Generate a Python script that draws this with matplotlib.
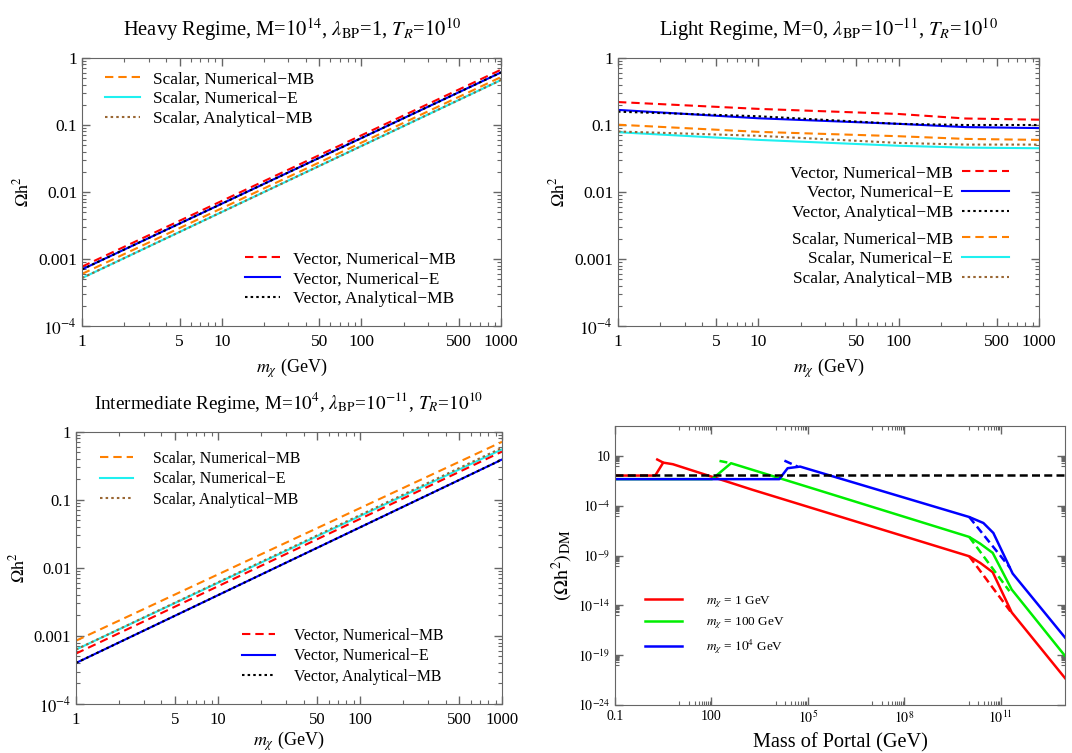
import numpy as np
import matplotlib
matplotlib.use("Agg")
import matplotlib.pyplot as plt
from matplotlib.ticker import FixedLocator, FixedFormatter, NullFormatter

plt.rcParams['font.family'] = ['Liberation Serif', 'DejaVu Serif']
plt.rcParams['mathtext.fontset'] = 'stix'

# ---- data ----
# heavy regime, values at m_chi = 1 and 1000 GeV
mx = [1, 1000]
heavy_vec_nmb = [7.7e-4, 0.67]
heavy_vec_ne = [7.0e-4, 0.61]
heavy_vec_amb = [7.0e-4, 0.61]
heavy_sca_nmb = [6.0e-4, 0.52]
heavy_sca_ne = [5.2e-4, 0.47]
heavy_sca_amb = [5.2e-4, 0.47]

# light regime
mx_light = [1, 10, 100, 300, 1000]
light_vec_nmb = [0.22, 0.174, 0.146, 0.125, 0.12]
light_vec_ne = [0.168, 0.126, 0.104, 0.093, 0.09]
light_vec_amb = [0.158, 0.135, 0.104, 0.1, 0.1]
light_sca_nmb = [0.101, 0.079, 0.068, 0.062, 0.06]
light_sca_ne = [0.078, 0.06, 0.049, 0.046, 0.045]
light_sca_amb = [0.08, 0.069, 0.054, 0.051, 0.051]

# intermediate regime
int_sca_nmb = [8.5e-4, 0.71]
int_sca_ne = [6.3e-4, 0.55]
int_sca_amb = [6.3e-4, 0.58]
int_vec_nmb = [5.5e-4, 0.51]
int_vec_ne = [4.0e-4, 0.39]
int_vec_amb = [4.0e-4, 0.39]

# mass of portal scan, log10(M) and log10(Omega h^2)
red_x = [-1, 0.25, 0.5, 0.8, 3.28, 10.02, 10.36, 10.75, 11.34, 13.0]
red_y = [-0.97, -0.97, 0.33, 0.17, -2.4, -9.07, -9.73, -10.67, -14.7, -21.3]
red_dash1_x = [0.28, 0.5]
red_dash1_y = [0.7, 0.33]
red_dash2_x = [10.02, 11.3]
red_dash2_y = [-9.07, -14.6]

green_x = [-1, 2.02, 2.61, 5.36, 10.02, 10.36, 10.75, 11.34, 13.0]
green_y = [-1.33, -1.33, 0.27, -2.47, -7.13, -7.8, -8.73, -12.4, -19.07]
green_dash1_x = [2.25, 2.61]
green_dash1_y = [0.5, 0.27]
green_dash2_x = [10.02, 11.27]
green_dash2_y = [-7.13, -12.57]

blue_x = [-1, 4.11, 4.37, 4.76, 10.02, 10.46, 10.77, 11.37, 13.0]
blue_y = [-1.33, -1.33, -0.23, -0.07, -5.13, -5.73, -6.73, -10.8, -17.23]
blue_dash1_x = [4.27, 4.68]
blue_dash1_y = [0.53, -0.07]
blue_dash2_x = [10.02, 11.29]
blue_dash2_y = [-5.13, -10.23]

relic = 0.12

RED, BLUE, BLACK = '#ff0000', '#0000ff', '#000000'
ORANGE, CYAN, BROWN, GREEN = '#ff8000', '#1ff0f0', '#996633', '#00ee00'
FRAME = '#666666'

lw = 1.5
DASH = (4, 2.4)
DOT = (1.2, 1.5)

fig = plt.figure(figsize=(10.72, 7.53), dpi=100)


def style_mx_axes(ax, xlabelpad=4, ticksize=12.5):
    ax.set_xscale('log')
    ax.set_yscale('log')
    ax.set_xlim(1, 1000)
    ax.set_ylim(1e-4, 1)
    ax.xaxis.set_major_locator(FixedLocator([1, 5, 10, 50, 100, 500, 1000]))
    ax.xaxis.set_major_formatter(FixedFormatter(['1', '5', '10', '50', '100', '500', '1000']))
    xm = [k * 10.0 ** d for d in range(0, 3) for k in (2, 3, 4, 6, 7, 8, 9)]
    ax.xaxis.set_minor_locator(FixedLocator(xm))
    ax.yaxis.set_major_locator(FixedLocator([1e-4, 1e-3, 1e-2, 0.1, 1]))
    ax.yaxis.set_major_formatter(FixedFormatter(['$10^{-4}$', '0.001', '0.01', '0.1', '1']))
    ym = [k * 10.0 ** d for d in range(-4, 0) for k in range(2, 10)]
    ax.yaxis.set_minor_locator(FixedLocator(ym))
    ax.xaxis.set_minor_formatter(NullFormatter())
    ax.yaxis.set_minor_formatter(NullFormatter())
    ax.tick_params(which='both', direction='in', top=True, right=True, color=FRAME, labelsize=ticksize)
    ax.tick_params(which='major', length=6, width=1)
    ax.tick_params(which='minor', length=3, width=0.8)
    ax.tick_params(axis='x', pad=6)
    for s in ax.spines.values():
        s.set_color(FRAME)
    ax.set_xlabel(r'$m_\chi$ (GeV)', fontsize=13, labelpad=xlabelpad)
    ax.set_ylabel(r'$\mathrm{\Omega h}^2$', fontsize=13, labelpad=4)


def draw_set(ax, x, vals, labels, colors, kinds):
    handles = []
    for v, lab, c, k in zip(vals, labels, colors, kinds):
        if k == 'dash':
            h, = ax.plot(x, v, color=c, lw=lw, dashes=DASH, label=lab)
        elif k == 'dot':
            h, = ax.plot(x, v, color=c, lw=lw, dashes=DOT, label=lab)
        else:
            h, = ax.plot(x, v, color=c, lw=lw, label=lab)
        handles.append(h)
    return handles


vec_labels = ['Vector, Numerical\u2212MB', 'Vector, Numerical\u2212E', 'Vector, Analytical\u2212MB']
sca_labels = ['Scalar, Numerical\u2212MB', 'Scalar, Numerical\u2212E', 'Scalar, Analytical\u2212MB']
vec_colors = [RED, BLUE, BLACK]
sca_colors = [ORANGE, CYAN, BROWN]
kinds = ['dash', 'solid', 'dot']

leg_kw = dict(frameon=False, fontsize=12.4, borderaxespad=0, borderpad=0, labelspacing=0.22)
leg_kw3 = dict(frameon=False, fontsize=11.4, borderaxespad=0, borderpad=0, labelspacing=0.3)
TFS = 14.8

# ---- heavy regime ----
ax1 = fig.add_axes([0.0765, 0.567, 0.391, 0.356])
hs = draw_set(ax1, mx, [heavy_sca_nmb, heavy_sca_ne, heavy_sca_amb], sca_labels, sca_colors, kinds)
hv = draw_set(ax1, mx, [heavy_vec_nmb, heavy_vec_ne, heavy_vec_amb], vec_labels, vec_colors, kinds)
style_mx_axes(ax1)
ax1.set_title(r'Heavy Regime, M=$10^{14}$, $\lambda_{\mathrm{BP}}$=1, $T_R$=$10^{10}$', fontsize=TFS, pad=16)
l1 = ax1.legend(handles=hs, loc='center left', bbox_to_anchor=(0.055, 0.847),
                handlelength=2.0, handletextpad=0.8, **leg_kw)
ax1.add_artist(l1)
ax1.legend(handles=hv, loc='center left', bbox_to_anchor=(0.389, 0.175),
           handlelength=2.0, handletextpad=0.8, **leg_kw)

# ---- light regime ----
ax2 = fig.add_axes([0.5765, 0.567, 0.3927, 0.356])
hs = draw_set(ax2, mx_light, [light_sca_nmb, light_sca_ne, light_sca_amb], sca_labels, sca_colors, kinds)
hv = draw_set(ax2, mx_light, [light_vec_nmb, light_vec_ne, light_vec_amb], vec_labels, vec_colors, kinds)
style_mx_axes(ax2)
ax2.set_title(r'Light Regime, M=0, $\lambda_{\mathrm{BP}}$=$10^{-11}$, $T_R$=$10^{10}$', fontsize=TFS, pad=16)
l2 = ax2.legend(handles=hv, loc='center right', bbox_to_anchor=(0.9287, 0.496), markerfirst=False,
                handlelength=2.7, handletextpad=0.55, **leg_kw)
ax2.add_artist(l2)
ax2.legend(handles=hs, loc='center right', bbox_to_anchor=(0.9287, 0.25), markerfirst=False,
           handlelength=2.7, handletextpad=0.55, **leg_kw)

# ---- intermediate regime ----
ax3 = fig.add_axes([0.0709, 0.0651, 0.3974, 0.3616])
hs = draw_set(ax3, mx, [int_sca_nmb, int_sca_ne, int_sca_amb], sca_labels, sca_colors, kinds)
hv = draw_set(ax3, mx, [int_vec_nmb, int_vec_ne, int_vec_amb], vec_labels, vec_colors, kinds)
style_mx_axes(ax3, xlabelpad=1, ticksize=12)
ax3.set_title(r'Intermediate Regime, M=$10^4$, $\lambda_{\mathrm{BP}}$=$10^{-11}$, $T_R$=$10^{10}$',
              fontsize=13.8, pad=16)
l3 = ax3.legend(handles=hs, loc='center left', bbox_to_anchor=(0.056, 0.826),
                handlelength=2.1, handletextpad=1.27, **leg_kw3)
ax3.add_artist(l3)
ax3.legend(handles=hv, loc='center left', bbox_to_anchor=(0.39, 0.176),
           handlelength=2.1, handletextpad=1.2, **leg_kw3)

# ---- mass of portal ----
ax4 = fig.add_axes([0.5737, 0.0637, 0.4198, 0.3705])
lw4 = 1.8
D4 = (3.2, 1.7)
p = lambda a: 10.0 ** np.array(a)
ax4.plot(p(red_x), p(red_y), color=RED, lw=lw4, label=r'$m_\chi$ = 1 GeV')
ax4.plot(p(red_dash1_x), p(red_dash1_y), color=RED, lw=lw4, dashes=D4)
ax4.plot(p(red_dash2_x), p(red_dash2_y), color=RED, lw=lw4, dashes=D4)
ax4.plot(p(green_x), p(green_y), color=GREEN, lw=lw4, label=r'$m_\chi$ = 100 GeV')
ax4.plot(p(green_dash1_x), p(green_dash1_y), color=GREEN, lw=lw4, dashes=D4)
ax4.plot(p(green_dash2_x), p(green_dash2_y), color=GREEN, lw=lw4, dashes=D4)
ax4.plot(p(blue_x), p(blue_y), color=BLUE, lw=lw4, label=r'$m_\chi$ = $10^4$ GeV')
ax4.plot(p(blue_dash1_x), p(blue_dash1_y), color=BLUE, lw=lw4, dashes=D4)
ax4.plot(p(blue_dash2_x), p(blue_dash2_y), color=BLUE, lw=lw4, dashes=D4)
ax4.axhline(relic, color=BLACK, lw=lw4, dashes=D4)
ax4.set_xscale('log')
ax4.set_yscale('log')
ax4.set_xlim(0.1, 1e13)
ax4.set_ylim(1e-24, 1e4)
ax4.xaxis.set_major_locator(FixedLocator([0.1, 100, 1e5, 1e8, 1e11]))
ax4.xaxis.set_major_formatter(FixedFormatter(['0.1', '100', '$10^5$', '$10^8$', '$10^{11}$']))
ax4.xaxis.set_minor_locator(FixedLocator([k * 10.0 ** d for d in (1, 4, 7, 10) for k in range(1, 10)]))
ax4.yaxis.set_major_locator(FixedLocator([1e-24, 1e-19, 1e-14, 1e-9, 1e-4, 10]))
ax4.yaxis.set_major_formatter(FixedFormatter(['$10^{-24}$', '$10^{-19}$', '$10^{-14}$',
                                              '$10^{-9}$', '$10^{-4}$', '10']))
ax4.yaxis.set_minor_locator(FixedLocator([k * 10.0 ** d for d in (-25, -20, -15, -10, -5, 0) for k in range(1, 10)]))
ax4.xaxis.set_minor_formatter(NullFormatter())
ax4.yaxis.set_minor_formatter(NullFormatter())
ax4.tick_params(which='both', direction='in', top=True, right=True, color=FRAME, labelsize=10)
ax4.tick_params(which='major', length=6, width=1)
ax4.tick_params(which='minor', length=3, width=0.8)
for s in ax4.spines.values():
    s.set_color(FRAME)
ax4.set_xlabel('Mass of Portal (GeV)', fontsize=14.6, labelpad=5)
ax4.set_ylabel(r'$(\mathrm{\Omega h}^2)_{\mathrm{DM}}$', fontsize=14.5, labelpad=2)
ax4.legend(loc='center left', bbox_to_anchor=(0.0667, 0.287), frameon=False, fontsize=9.5,
           borderaxespad=0, borderpad=0, handlelength=2.8, handletextpad=1.8, labelspacing=0.45)

fig.savefig('out.png', dpi=100)
